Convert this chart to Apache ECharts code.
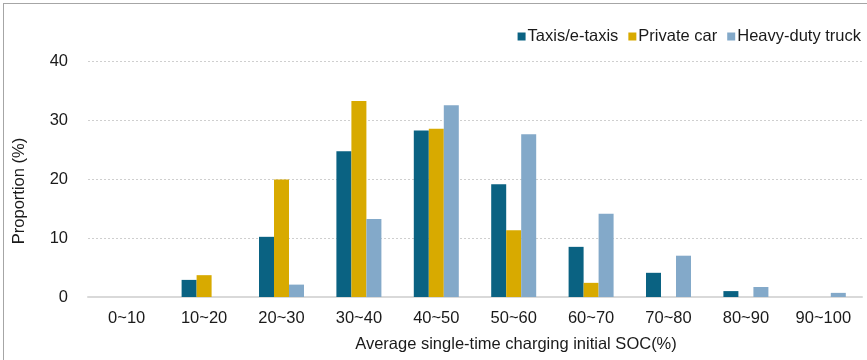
<!DOCTYPE html>
<html>
<head>
<meta charset="utf-8">
<script src="https://cdn.jsdelivr.net/npm/echarts@6/dist/echarts.min.js"></script>
<style>
html,body{margin:0;padding:0;background:#fff;}
#frame{position:absolute;left:3px;top:3px;width:900px;height:400px;border:1px solid #a6a6a6;box-sizing:border-box;}
#chart{position:absolute;left:0;top:0;width:867px;height:360px;}
</style>
</head>
<body>
<div id="frame"></div>
<div id="chart"></div>
<script>
const categories = ['0~10','10~20','20~30','30~40','40~50','50~60','60~70','70~80','80~90','90~100'];
const taxis   = [0, 2.9, 10.2, 24.7, 28.2, 19.1, 8.5, 4.1, 1.0, 0];
const private_ = [0, 3.7, 19.9, 33.2, 28.5, 11.3, 2.4, 0, 0, 0];
const truck   = [0, 0, 2.1, 13.2, 32.5, 27.6, 14.1, 7.0, 1.7, 0.7];
const seriesNames = ['Taxis/e-taxis', 'Private car', 'Heavy-duty truck'];
const yTicks = [0, 10, 20, 30, 40];

const colors = ['#0a6282', '#d8aa00', '#83a9c9'];
const font = '"Liberation Sans", Arial, sans-serif';
const fs = 16.5;

const chart = echarts.init(document.getElementById('chart'));
const mk = (name, data, i) => ({
  name, type: 'bar', data, barWidth: 15, barGap: '0%',
  itemStyle: { color: colors[i] },
  emphasis: { disabled: true }
});
chart.setOption({
  animation: false,
  textStyle: { fontFamily: font },
  legend: {
    right: 1, top: 23, itemWidth: 8, itemHeight: 8, itemGap: 10,
    icon: 'rect',
    textStyle: { fontSize: fs, color: '#1a1a1a', fontFamily: font, padding: [0, 0, 0, -3] },
    data: seriesNames
  },
  grid: { left: 88, right: 5, top: 61, bottom: 63, containLabel: false },
  xAxis: {
    type: 'category', data: categories,
    axisLine: { lineStyle: { color: '#d9d9d9', width: 2 } },
    axisTick: { show: false },
    axisLabel: { fontSize: fs, color: '#1a1a1a', margin: 13, fontFamily: font },
    name: 'Average single-time charging initial SOC(%)',
    nameLocation: 'middle', nameGap: 39,
    nameTextStyle: { fontSize: fs, color: '#1a1a1a', padding: [0, 0, 0, 82], fontFamily: font }
  },
  yAxis: {
    type: 'value', min: yTicks[0], max: yTicks[yTicks.length - 1], interval: 10,
    axisLine: { show: false }, axisTick: { show: false },
    axisLabel: { fontSize: fs, color: '#1a1a1a', margin: 20, fontFamily: font },
    splitLine: { lineStyle: { color: '#cfcfcf', type: [2, 2], width: 1 } },
    name: 'Proportion (%)', nameLocation: 'middle', nameGap: 60, nameRotate: 90,
    nameTextStyle: { fontSize: fs, color: '#1a1a1a', padding: [0, 24, 0, 0], fontFamily: font }
  },
  series: [mk(seriesNames[0], taxis, 0), mk(seriesNames[1], private_, 1), mk(seriesNames[2], truck, 2)]
});
</script>
</body>
</html>
